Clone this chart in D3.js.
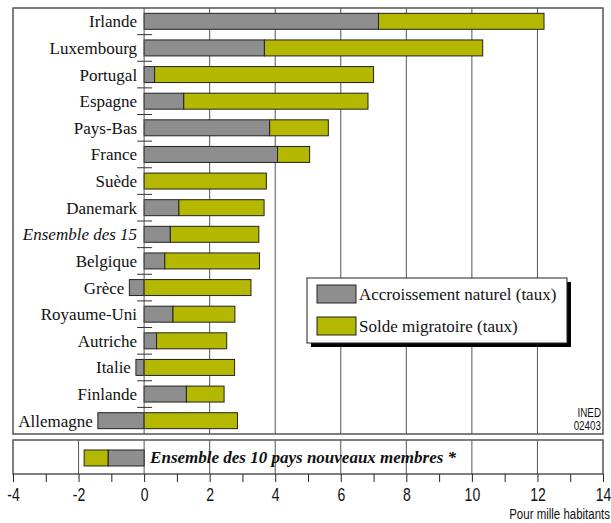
<!DOCTYPE html>
<html lang="fr">
<head>
	<meta charset="UTF-8">
	<title>croissance</title>
	<style>
		* { margin: 0; padding: 0; }
		body { background: #fff; }
		svg { display: block; }
		.cond { font-family: 'Liberation Sans', Arial, sans-serif; }
		.serif { font-family: 'Liberation Serif', 'Times New Roman', serif; }
	</style>
</head>
<body>
	<script src="https://cdn.jsdelivr.net/npm/d3@7"></script>
	<script>
		// pays (de haut en bas)
		var pays = ['Irlande', 'Luxembourg', 'Portugal', 'Espagne', 'Pays-Bas', 'France', 'Suède', 'Danemark',
			'Ensemble des 15', 'Belgique', 'Grèce', 'Royaume-Uni', 'Autriche', 'Italie', 'Finlande', 'Allemagne'];
		// accroissement naturel (pour mille)
		var naturel = [7.15, 3.67, 0.32, 1.21, 3.83, 4.07, 0.0, 1.06, 0.8, 0.63, -0.45, 0.88, 0.38, -0.25, 1.29, -1.41];
		// solde migratoire (pour mille)
		var migratoire = [5.05, 6.66, 6.68, 5.62, 1.79, 0.98, 3.73, 2.6, 2.7, 2.89, 3.26, 1.89, 2.14, 2.76, 1.15, 2.85];
		// 10 nouveaux membres
		var nouveauxNaturel = -1.1;
		var nouveauxMigratoire = -0.73;
		var xTicks = [-4, -2, 0, 2, 4, 6, 8, 10, 12, 14];

		var width = 611, height = 523;
		var gris = '#8e8e8e', jaune = '#b4b800', trait = '#555';

		var svg = d3.select('body').append('svg').attr('width', width).attr('height', height);

		var xScale = d3.scaleLinear().domain([-4, 14]).range([13, 603]);
		var yScale = d3.scaleBand().domain(pays).range([8, 434]).paddingInner(0.4).paddingOuter(0.2);

		// segments empilés
		function segments(nat, mig) {
			var s = [];
			s.push({type: 'nat', x0: Math.min(0, nat), x1: Math.max(0, nat)});
			var base = (nat > 0 && mig > 0) || (nat < 0 && mig < 0) ? nat : 0;
			s.push({type: 'mig', x0: Math.min(base, base + mig), x1: Math.max(base, base + mig)});
			return s;
		}

		var data = pays.map(function (p, i) {
			return {pays: p, nat: naturel[i], seg: segments(naturel[i], migratoire[i])};
		});

		// grille du panneau principal
		svg.selectAll('.grid')
			.data([2, 4, 6, 8, 10, 12])
			.enter()
			.append('line')
			.attr('x1', function (d) { return xScale(d); })
			.attr('x2', function (d) { return xScale(d); })
			.attr('y1', 8).attr('y2', 434)
			.attr('stroke', trait).attr('stroke-width', 1);

		// barres
		var rows = svg.selectAll('.row')
			.data(data)
			.enter()
			.append('g')
			.attr('transform', function (d) { return 'translate(0,' + yScale(d.pays) + ')'; });

		rows.selectAll('rect')
			.data(function (d) { return d.seg.filter(function (s) { return s.x1 - s.x0 > 0.001; }); })
			.enter()
			.append('rect')
			.attr('x', function (d) { return xScale(d.x0); })
			.attr('width', function (d) { return xScale(d.x1) - xScale(d.x0); })
			.attr('height', yScale.bandwidth())
			.attr('fill', function (d) { return d.type === 'nat' ? gris : jaune; })
			.attr('stroke', '#222').attr('stroke-width', 1);

		// axe zéro
		svg.append('line')
			.attr('x1', xScale(0)).attr('x2', xScale(0))
			.attr('y1', 8).attr('y2', 434)
			.attr('stroke', trait).attr('stroke-width', 1);

		// petites graduations entre les pays
		svg.selectAll('.ytick')
			.data(pays.slice(1))
			.enter()
			.append('line')
			.attr('x1', xScale(0) - 7).attr('x2', xScale(0) + 8)
			.attr('y1', function (d) { return yScale(d) - yScale.step() * 0.2; })
			.attr('y2', function (d) { return yScale(d) - yScale.step() * 0.2; })
			.attr('stroke', '#333').attr('stroke-width', 1);

		// noms des pays (à gauche de la barre si négative)
		svg.selectAll('.label')
			.data(data)
			.enter()
			.append('text')
			.attr('class', 'serif')
			.attr('x', function (d) { return d.nat < 0 ? xScale(d.nat) - 5 : xScale(0) - 7; })
			.attr('y', function (d) { return yScale(d.pays) + yScale.bandwidth() / 2; })
			.attr('dy', '0.35em')
			.attr('text-anchor', 'end')
			.style('font-size', '17px')
			.style('font-style', function (d) { return d.pays === 'Ensemble des 15' ? 'italic' : 'normal'; })
			.attr('fill', '#111')
			.text(function (d) { return d.pays; });

		// cadre principal
		svg.append('rect')
			.attr('x', 13).attr('y', 8).attr('width', 590).attr('height', 426)
			.attr('fill', 'none').attr('stroke', trait).attr('stroke-width', 1.5);

		// légende
		var leg = svg.append('g').attr('transform', 'translate(307,278)');
		leg.append('rect').attr('x', 4).attr('y', 4).attr('width', 260).attr('height', 65).attr('fill', '#000');
		leg.append('rect').attr('width', 260).attr('height', 65).attr('fill', '#fff').attr('stroke', '#222').attr('stroke-width', 1);
		var legItems = [{c: gris, t: 'Accroissement naturel (taux)'}, {c: jaune, t: 'Solde migratoire (taux)'}];
		legItems.forEach(function (d, i) {
			leg.append('rect').attr('x', 10).attr('y', 7 + i * 32).attr('width', 39).attr('height', 18)
				.attr('fill', d.c).attr('stroke', '#222').attr('stroke-width', 1);
			leg.append('text').attr('class', 'serif').attr('x', 52).attr('y', 22 + i * 32)
				.style('font-size', '17px').attr('fill', '#111').text(d.t);
		});

		// texte étroit (sans-serif comprimé)
		function narrow(x, y, size, txt) {
			svg.append('g').attr('transform', 'translate(' + x + ',' + y + ') scale(0.82,1)')
				.append('text').attr('class', 'cond').attr('text-anchor', 'end')
				.style('font-size', size + 'px').attr('fill', '#111').text(txt);
		}
		narrow(601, 417, 12, 'INED');
		narrow(601, 430, 12, '02403');

		// panneau du bas
		var bTop = 440, bBot = 474;
		svg.selectAll('.bgrid')
			.data([-2, 0, 2, 4, 6, 8, 10, 12])
			.enter()
			.append('line')
			.attr('x1', function (d) { return xScale(d); })
			.attr('x2', function (d) { return xScale(d); })
			.attr('y1', bTop).attr('y2', bBot)
			.attr('stroke', trait).attr('stroke-width', 1);

		var bSeg = segments(nouveauxNaturel, nouveauxMigratoire);
		svg.selectAll('.bbar')
			.data(bSeg)
			.enter()
			.append('rect')
			.attr('x', function (d) { return xScale(d.x0); })
			.attr('y', 450)
			.attr('width', function (d) { return xScale(d.x1) - xScale(d.x0); })
			.attr('height', yScale.bandwidth())
			.attr('fill', function (d) { return d.type === 'nat' ? gris : jaune; })
			.attr('stroke', '#222').attr('stroke-width', 1);

		var bText = svg.append('text').attr('class', 'serif')
			.attr('x', xScale(0) + 6).attr('y', 463)
			.style('font-size', '17px').style('font-weight', 'bold').style('font-style', 'italic')
			.attr('fill', '#111')
			.text('Ensemble des 10 pays nouveaux membres *');
		var bb = bText.node().getBBox();
		svg.insert('rect', 'text')
			.attr('x', bb.x - 2).attr('y', 449).attr('width', bb.width + 2).attr('height', 15)
			.attr('fill', '#fff');

		svg.append('rect')
			.attr('x', 13).attr('y', bTop).attr('width', 590).attr('height', bBot - bTop)
			.attr('fill', 'none').attr('stroke', trait).attr('stroke-width', 1.5);

		// axe x
		var axis = svg.append('g')
			.attr('class', 'cond')
			.attr('transform', 'translate(0,' + bBot + ')')
			.call(d3.axisBottom(xScale).ticks(18).tickSize(8).tickFormat(function (d) {
				return xTicks.indexOf(d) >= 0 ? d : '';
			}));
		axis.select('.domain').remove();
		axis.selectAll('line').attr('stroke', '#222');
		axis.selectAll('text')
			.attr('y', 14)
			.attr('transform', 'scale(0.78,1)')
			.attr('fill', '#111')
			.style('font-size', '18px')
			.style('font-family', "'Liberation Sans', Arial, sans-serif")
			.text(function (d) { return xTicks.indexOf(d) >= 0 ? String(d) : ''; });

		narrow(610, 519, 14, 'Pour mille habitants');
	</script>
</body>
</html>
